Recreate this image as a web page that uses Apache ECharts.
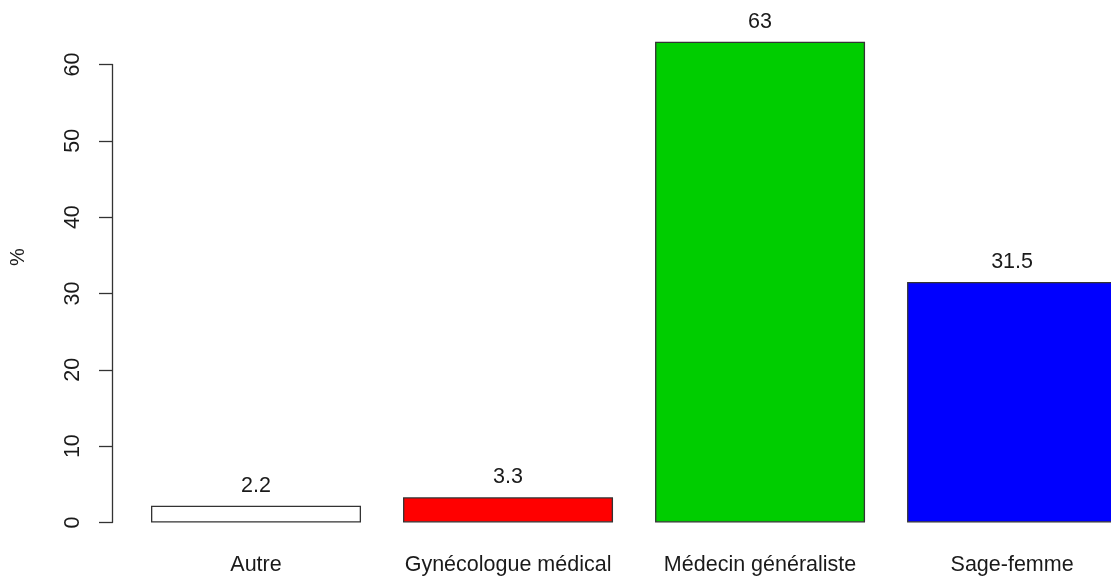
<!DOCTYPE html>
<html>
<head>
<meta charset="utf-8">
<script src="https://cdn.jsdelivr.net/npm/echarts@6/dist/echarts.min.js"></script>
<style>html,body{margin:0;padding:0;background:#fff;}#chart{width:1111px;height:581px;}</style>
</head>
<body>
<div id="chart"></div>
<script>
var categories = ['Autre', 'Gynécologue médical', 'Médecin généraliste', 'Sage-femme'];
var values = [2.2, 3.3, 63, 31.5];
var barColors = ['#FFFFFF', '#FF0000', '#00CD00', '#0000FF'];
var yTicks = [0, 10, 20, 30, 40, 50, 60];
var yLabel = '%';

// bar centres in bar units (width 1, space 0.2)
var barCenters = categories.map(function (c, i) { return 0.7 + 1.2 * i; });

var font = 'Liberation Sans, Arial, sans-serif';
var chart = echarts.init(document.getElementById('chart'), null, {renderer: 'canvas'});
chart.setOption({
  animation: false,
  backgroundColor: '#ffffff',
  grid: [
    {left: 112, right: 0, top: 22.4, bottom: 39.3, outerBoundsMode: 'none'},
    {left: 112, width: 1, top: 64.5, bottom: 58.5, outerBoundsMode: 'none'}
  ],
  xAxis: [
    {
      type: 'value', gridIndex: 0, min: 0.0143, max: 4.771,
      splitLine: {show: false},
      axisLine: {show: false, onZero: false}, axisTick: {show: false},
      axisLabel: {
        customValues: barCenters,
        fontFamily: font, fontSize: 21.5, color: '#1a1a1a', margin: 12,
        formatter: function (v) {
          for (var i = 0; i < barCenters.length; i++) {
            if (Math.abs(barCenters[i] - v) < 1e-6) return categories[i];
          }
          return '';
        }
      }
    },
    {type: 'value', gridIndex: 1, show: false, min: 0, max: 1}
  ],
  yAxis: [
    {type: 'value', gridIndex: 0, min: -2.52, max: 65.52, show: false},
    {
      type: 'value', gridIndex: 1, min: yTicks[0], max: yTicks[yTicks.length - 1], interval: 10,
      axisLine: {show: true, lineStyle: {color: '#333', width: 1.3}},
      axisTick: {show: true, length: 13, lineStyle: {color: '#333', width: 1.3}},
      splitLine: {show: false},
      axisLabel: {fontFamily: font, fontSize: 21.5, color: '#1a1a1a', rotate: 90, margin: 28, lineHeight: 22}
    }
  ],
  graphic: [{
    type: 'text', x: 18, y: 257, rotation: Math.PI / 2,
    style: {text: yLabel, fontFamily: font, fontSize: 20, fill: '#1a1a1a', align: 'center', verticalAlign: 'middle'}
  }],
  series: [{
    type: 'bar', xAxisIndex: 0, yAxisIndex: 0,
    barWidth: 210,
    clip: true,
    data: values.map(function (v, i) {
      return {value: [barCenters[i], v], itemStyle: {color: barColors[i], borderColor: '#333', borderWidth: 1.3}};
    }),
    label: {
      show: true, position: 'top', distance: 9,
      fontFamily: font, fontSize: 21.5, color: '#1a1a1a', lineHeight: 22,
      formatter: function (p) { return String(p.value[1]); }
    }
  }]
});
</script>
</body>
</html>
